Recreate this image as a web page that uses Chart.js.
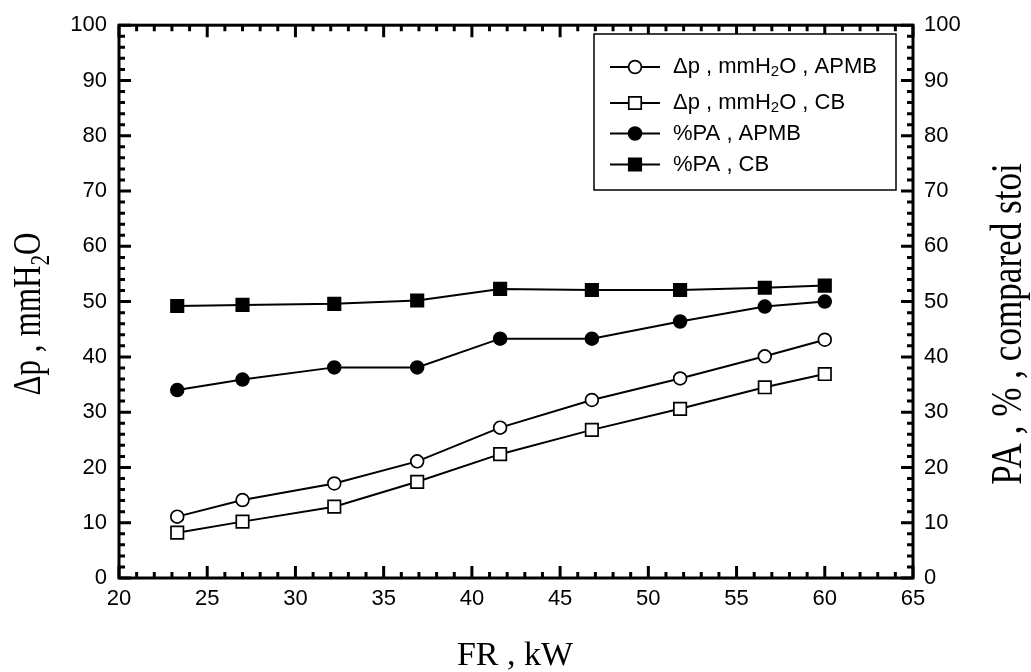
<!DOCTYPE html>
<html>
<head>
<meta charset="utf-8">
<script src="https://cdn.jsdelivr.net/npm/chart.js@4/dist/chart.umd.min.js"></script>
<style>
html, body { margin: 0; padding: 0; background: #fff; }
</style>
</head>
<body>
<canvas id="chart" width="1031" height="672"></canvas>
<script>
// FR , kW
const fr = [23.3, 27.0, 32.2, 36.9, 41.6, 46.8, 51.8, 56.6, 60.0];
// pressure drop, mmH2O
const dpApmb = [11.1, 14.1, 17.1, 21.1, 27.2, 32.2, 36.1, 40.1, 43.1];
const dpCb = [8.2, 10.2, 12.9, 17.4, 22.4, 26.8, 30.6, 34.5, 36.9];
// %PA
const paApmb = [34.0, 35.9, 38.1, 38.1, 43.3, 43.3, 46.4, 49.1, 50.0];
const paCb = [49.2, 49.4, 49.6, 50.2, 52.3, 52.1, 52.1, 52.5, 52.9];

const legendLabels = [
  [{t: 'Δp , mmH'}, {t: '2', sub: true}, {t: 'O , APMB'}],
  [{t: 'Δp , mmH'}, {t: '2', sub: true}, {t: 'O , CB'}],
  [{t: '%PA , APMB'}],
  [{t: '%PA , CB'}]
];

function pts(ys) {
  return fr.map((x, i) => ({x: x, y: ys[i]}));
}

function makeSet(label, ys, style, filled, axis) {
  return {
    label: label,
    data: pts(ys),
    yAxisID: axis,
    showLine: true,
    borderColor: '#000',
    borderWidth: 2,
    pointStyle: style,
    pointRadius: style === 'rect' ? 8.8 : 6.4,
    pointHoverRadius: style === 'rect' ? 8.8 : 6.4,
    pointBorderWidth: 1.7,
    pointBackgroundColor: filled ? '#000' : '#fff',
    pointBorderColor: '#000'
  };
}

// text pieces with subscripts
function richWidth(ctx, parts, size) {
  let w = 0;
  parts.forEach(p => {
    ctx.font = (p.sub ? Math.round(size * 0.68) : size) + 'px ' + ctx._fam;
    w += ctx.measureText(p.t).width;
  });
  return w;
}
function drawRich(ctx, parts, x, y, size) {
  parts.forEach(p => {
    ctx.font = (p.sub ? Math.round(size * 0.68) : size) + 'px ' + ctx._fam;
    ctx.fillText(p.t, x, p.sub ? y + size * 0.22 : y);
    x += ctx.measureText(p.t).width;
  });
}

const frame = {
  id: 'frame',
  beforeDatasetsDraw(chart) {
    const ctx = chart.ctx, a = chart.chartArea;
    const xs = chart.scales.x, ys = chart.scales.y;
    ctx.save();
    ctx.strokeStyle = '#000';
    ctx.lineWidth = 3;
    ctx.beginPath();
    for (let v = 20; v <= 65; v += 1) {
      const px = xs.getPixelForValue(v);
      const len = v % 5 === 0 ? 12 : 6;
      ctx.moveTo(px, a.bottom); ctx.lineTo(px, a.bottom - len);
      ctx.moveTo(px, a.top); ctx.lineTo(px, a.top + len);
    }
    for (let v = 0; v <= 100; v += 2) {
      const py = ys.getPixelForValue(v);
      const len = v % 10 === 0 ? 12 : 6;
      ctx.moveTo(a.left, py); ctx.lineTo(a.left + len, py);
      ctx.moveTo(a.right, py); ctx.lineTo(a.right - len, py);
    }
    ctx.stroke();
    ctx.strokeRect(a.left, a.top, a.width, a.height);
    ctx.restore();
  },
  afterDraw(chart) {
    const ctx = chart.ctx;
    ctx.save();
    // legend box
    const lx = 594, ly = 34, lw = 302, lh = 156;
    ctx.fillStyle = '#fff';
    ctx.fillRect(lx, ly, lw, lh);
    ctx.strokeStyle = '#000';
    ctx.lineWidth = 1.5;
    ctx.strokeRect(lx, ly, lw, lh);
    const rows = [67, 103, 133.5, 164.5];
    ctx._fam = '"Liberation Sans", Arial, sans-serif';
    ctx.textBaseline = 'middle';
    chart.data.datasets.forEach((ds, i) => {
      const y = rows[i];
      ctx.strokeStyle = '#000';
      ctx.lineWidth = 2;
      ctx.beginPath();
      ctx.moveTo(610, y); ctx.lineTo(660, y);
      ctx.stroke();
      ctx.fillStyle = ds.pointBackgroundColor;
      ctx.lineWidth = ds.pointBorderWidth;
      Chart.helpers.drawPoint(ctx, {pointStyle: ds.pointStyle, radius: ds.pointRadius, borderWidth: ds.pointBorderWidth}, 635, y);
      ctx.fillStyle = '#000';
      drawRich(ctx, legendLabels[i], 673, y, 22);
    });

    // axis titles (serif)
    ctx._fam = '"Liberation Serif", "Times New Roman", serif';
    ctx.fillStyle = '#000';
    ctx.textBaseline = 'alphabetic';
    const bt = [{t: 'FR , kW'}];
    const bw = richWidth(ctx, bt, 34);
    drawRich(ctx, bt, 515 - bw / 2, 665, 34);

    const lt = [{t: 'Δp , mmH'}, {t: '2', sub: true}, {t: 'O'}];
    ctx.save();
    ctx.translate(40, 314);
    ctx.rotate(-Math.PI / 2);
    ctx.scale(0.76, 1);
    const lwid = richWidth(ctx, lt, 41);
    drawRich(ctx, lt, -lwid / 2, 0, 41);
    ctx.restore();

    const rt = [{t: 'PA , % , compared stoi'}];
    ctx.save();
    ctx.translate(1021, 324);
    ctx.rotate(-Math.PI / 2);
    ctx.scale(0.78, 1);
    const rwid = richWidth(ctx, rt, 45);
    drawRich(ctx, rt, -rwid / 2, 0, 45);
    ctx.restore();
    ctx.restore();
  }
};

const tickFont = {family: '"Liberation Sans", Arial, sans-serif', size: 22};

new Chart(document.getElementById('chart'), {
  type: 'scatter',
  data: {
    datasets: [
      makeSet('Δp , mmH2O , APMB', dpApmb, 'circle', false, 'y'),
      makeSet('Δp , mmH2O , CB', dpCb, 'rect', false, 'y'),
      makeSet('%PA , APMB', paApmb, 'circle', true, 'y2'),
      makeSet('%PA , CB', paCb, 'rect', true, 'y2')
    ]
  },
  options: {
    responsive: false,
    animation: false,
    devicePixelRatio: 1,
    layout: {padding: {top: 16, left: 0, right: 0, bottom: 0}},
    plugins: {legend: {display: false}, tooltip: {enabled: false}},
    scales: {
      x: {
        type: 'linear', min: 20, max: 65,
        ticks: {stepSize: 5, color: '#000', font: tickFont, padding: 8, maxRotation: 0},
        grid: {display: false, drawTicks: false},
        border: {display: false},
        afterFit: s => { s.height = 94; }
      },
      y: {
        position: 'left', min: 0, max: 100,
        ticks: {stepSize: 10, color: '#000', font: tickFont, padding: 12},
        grid: {display: false, drawTicks: false},
        border: {display: false},
        afterFit: s => { s.width = 119; }
      },
      y2: {
        position: 'right', min: 0, max: 100,
        ticks: {stepSize: 10, color: '#000', font: tickFont, padding: 11},
        grid: {display: false, drawTicks: false},
        border: {display: false},
        afterFit: s => { s.width = 118; }
      }
    }
  },
  plugins: [frame]
});
</script>
</body>
</html>
